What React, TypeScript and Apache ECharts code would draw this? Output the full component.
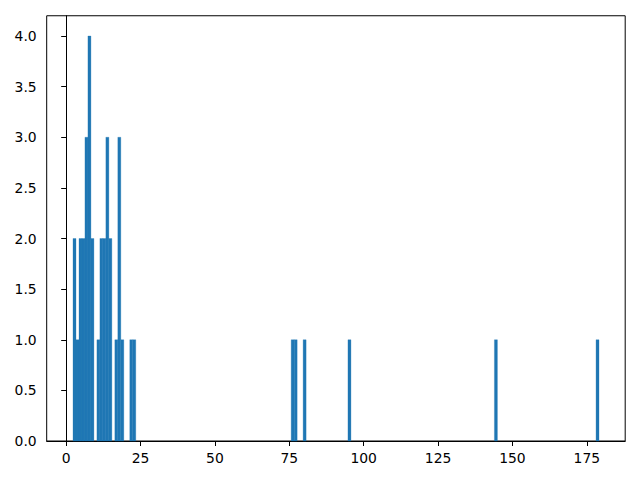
import React, { useEffect, useRef } from "react";
import * as echarts from "echarts";

const BIN_START = 2.29;
const BIN_WIDTH = 1.0046;
const binIndex = [0, 1, 2, 3, 4, 5, 6, 8, 9, 10, 11, 12, 14, 15, 16, 19, 20, 73, 74, 77, 92, 141, 175];
const counts = [2, 1, 2, 2, 3, 4, 2, 1, 2, 2, 3, 2, 1, 3, 1, 1, 1, 1, 1, 1, 1, 1, 1];
const xTicks = [0, 25, 50, 75, 100, 125, 150, 175];
const yTicks = [0, 0.5, 1, 1.5, 2, 2.5, 3, 3.5, 4];
const X_MIN = -6.55;
const X_MAX = 187.9;
const Y_MAX = 4.2;

export default function App() {
  const ref = useRef<HTMLDivElement>(null);
  useEffect(() => {
    if (!ref.current) return;
    const chart = echarts.init(ref.current, undefined, { renderer: "svg" });
    const data = binIndex.map((k, i) => {
      const left = BIN_START + k * BIN_WIDTH;
      return [left, left + BIN_WIDTH, counts[i]];
    });
    const font = { fontFamily: "DejaVu Sans", fontSize: 13.9, color: "#000" };
    chart.setOption({
      animation: false,
      grid: {
        left: 46.7,
        right: 14.8,
        top: 15.75,
        bottom: 39,
        show: true,
        borderColor: "#000",
        borderWidth: 1,
        backgroundColor: "transparent",
      },
      xAxis: {
        type: "value",
        min: X_MIN,
        max: X_MAX,
        splitLine: { show: false },
        axisLine: { show: true, onZero: false, lineStyle: { color: "#000", width: 1 } },
        axisTick: { show: true, customValues: xTicks, length: 5, lineStyle: { color: "#000" } },
        axisLabel: { ...font, customValues: xTicks, margin: 10, formatter: (v: number) => String(v) },
      },
      yAxis: {
        type: "value",
        min: 0,
        max: Y_MAX,
        splitLine: { show: false },
        axisLine: { show: true, lineStyle: { color: "#000", width: 1 } },
        axisTick: { show: true, customValues: yTicks, length: 5, lineStyle: { color: "#000" } },
        axisLabel: { ...font, customValues: yTicks, margin: 10, formatter: (v: number) => v.toFixed(1) },
      },
      series: [
        {
          type: "custom",
          data,
          encode: { x: [0, 1], y: 2 },
          renderItem: (params: any, api: any) => {
            const p0 = api.coord([api.value(0), api.value(2)]);
            const p1 = api.coord([api.value(1), 0]);
            return {
              type: "rect",
              shape: { x: p0[0], y: p0[1], width: p1[0] - p0[0], height: p1[1] - p0[1] },
              style: { fill: "#1f77b4", stroke: "#1f77b4", lineWidth: 0.3 },
            };
          },
        },
      ],
    });
    return () => chart.dispose();
  }, []);
  return (
    <div
      ref={ref}
      style={{ position: "absolute", left: 0, top: 0, width: 640, height: 480, background: "#fff" }}
    />
  );
}
